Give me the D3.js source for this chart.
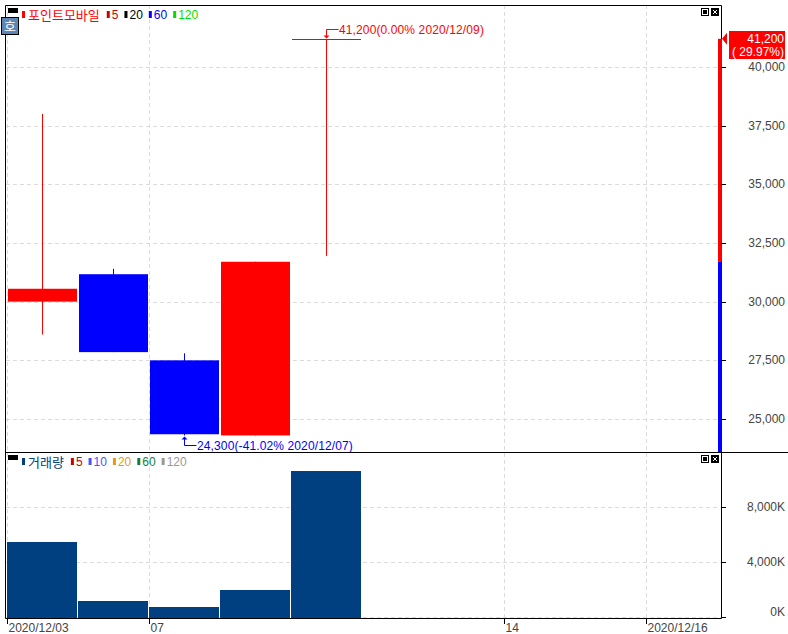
<!DOCTYPE html>
<html>
<head>
<meta charset="utf-8">
<script src="https://cdn.jsdelivr.net/npm/d3@7"></script>
<style>
html, body { margin: 0; background: #fff; }
svg { display: block; }
text { font-family: "Liberation Sans Narrow", "Liberation Sans", sans-serif; font-size: 12px; }
.kr { font-family: "Noto Sans CJK KR", sans-serif; font-size: 13px; }
</style>
</head>
<body>
<svg id="chart" width="788" height="634"></svg>
<script>
const dates = ["2020/12/03", "2020/12/04", "2020/12/07", "2020/12/08", "2020/12/09", "2020/12/10", "2020/12/11", "2020/12/14", "2020/12/15", "2020/12/16"]
const opens = [30000, 31170, 27500, 24300, 41200]
const closes = [30550, 27850, 24350, 31700, 41200]
const highs = [38000, 31400, 27800, 31700, 41200]
const lows = [28600, 27850, 24300, 24300, 31950]
const volumes = [5530, 1240, 800, 2040, 10700]
const priceTicks = [25000, 27500, 30000, 32500, 35000, 37500, 40000]
const volumeTicks = [0, 4000, 8000]
const dateTicks = [["2020/12/03", "2020/12/03"], ["2020/12/07", "07"], ["2020/12/14", "14"], ["2020/12/16", "2020/12/16"]]
const priceLegend = [["5", "#d00000"], ["20", "#000000"], ["60", "#0000ff"], ["120", "#00e000"]]
const volumeLegend = [["5", "#d00000"], ["10", "#5050ff"], ["20", "#e89a10"], ["60", "#108040"], ["120", "#999999"]]

const RED = "#ff0000", BLUE = "#0000ff", NAVY = "#004080"
const plotLeft = 6, plotRight = 721, plotTop = 5, split = 452, plotBottom = 618

const svg = d3.select("#chart")
const x = d3.scaleBand().domain(dates).range([6.5, 716.5]).paddingInner(0)
const y = d3.scaleLinear().domain([25000, 40000]).range([419, 67])
const yVol = d3.scaleLinear().domain([0, 8000]).range([617, 507])

// grid lines first so bars sit on top
const grid = svg.append("g").attr("stroke", "#dcdcdc").attr("stroke-dasharray", "4,3")
grid.append("g").selectAll("line").data(priceTicks).join("line")
    .attr("x1", plotLeft).attr("x2", plotRight)
    .attr("y1", d => Math.round(y(d)) + 0.5).attr("y2", d => Math.round(y(d)) + 0.5)
grid.append("g").selectAll("line").data(volumeTicks).join("line")
    .attr("x1", plotLeft).attr("x2", plotRight)
    .attr("y1", d => Math.round(yVol(d)) + 0.5).attr("y2", d => Math.round(yVol(d)) + 0.5)
grid.append("g").selectAll("line").data(dateTicks).join("line")
    .attr("x1", d => Math.floor(x(d[0])) + 1.5).attr("x2", d => Math.floor(x(d[0])) + 1.5)
    .attr("y1", plotTop).attr("y2", plotBottom)

// candles
const candles = dates.slice(0, opens.length).map((d, i) => ({
    date: d, open: opens[i], close: closes[i], high: highs[i], low: lows[i],
}))
const color = (d) => (d.close >= d.open ? RED : BLUE)
const mid = (d) => Math.round(x(d.date) + x.bandwidth() / 2) + 0.5

svg.append("g").selectAll("line").data(candles).join("line")
    .attr("x1", mid).attr("x2", mid)
    .attr("y1", d => y(d.high)).attr("y2", d => y(d.low))
    .attr("stroke", color)
svg.append("g").selectAll("rect").data(candles.filter(d => d.open !== d.close)).join("rect")
    .attr("x", d => x(d.date) + 1.5)
    .attr("width", x.bandwidth() - 2)
    .attr("y", d => y(Math.max(d.open, d.close)))
    .attr("height", d => y(Math.min(d.open, d.close)) - y(Math.max(d.open, d.close)))
    .attr("fill", color)
svg.append("g").selectAll("line").data(candles.filter(d => d.open === d.close)).join("line")
    .attr("x1", d => x(d.date) + 1.5).attr("x2", d => x(d.date) + x.bandwidth() - 0.5)
    .attr("y1", d => Math.round(y(d.close)) + 0.5).attr("y2", d => Math.round(y(d.close)) + 0.5)
    .attr("stroke", color)

// volume bars
svg.append("g").selectAll("rect").data(volumes).join("rect")
    .attr("x", (d, i) => x(dates[i]) + 0.5)
    .attr("width", x.bandwidth() - 1)
    .attr("y", d => Math.round(yVol(d)) + 1)
    .attr("height", d => plotBottom - Math.round(yVol(d)) - 1)
    .attr("fill", NAVY)

// high and low callouts
function callout(date, price, label, col, dir) {
    const cx = mid({ date })
    const py = Math.round(y(price)) + 0.5
    const ly = py + dir * 10
    const g = svg.append("g").attr("stroke", col).attr("fill", "none")
    g.append("path").attr("d", d3.line()([[cx, py + dir * 2], [cx, ly], [cx + 12, ly]]))
    g.append("path").attr("fill", col).attr("stroke", "none")
        .attr("d", d3.line()([[cx - 3, py + dir * 4], [cx + 3, py + dir * 4], [cx, py + dir]]))
    svg.append("text").attr("x", cx + 12.5).attr("y", ly + 4).attr("fill", col)
        .attr("letter-spacing", 0.12).text(label)
}
callout("2020/12/09", 41200, "41,200(0.00% 2020/12/09)", RED, -1)
callout("2020/12/07", 24300, "24,300(-41.02% 2020/12/07)", BLUE, 1)

// frame
const frame = svg.append("g").attr("stroke", "#000").attr("fill", "none")
frame.append("path").attr("d", `M${plotLeft - 0.5},${plotBottom + 0.5}V${plotTop + 0.5}H${plotRight + 0.5}V${plotBottom + 0.5}H${plotLeft - 0.5}`)
frame.append("line").attr("x1", plotLeft).attr("x2", 788).attr("y1", split + 0.5).attr("y2", split + 0.5)

// current price strip on the right edge
svg.append("rect").attr("x", 718).attr("width", 4)
    .attr("y", y(41200)).attr("height", y(31700) - y(41200)).attr("fill", RED)
svg.append("rect").attr("x", 718).attr("width", 4)
    .attr("y", y(31700)).attr("height", split - y(31700)).attr("fill", BLUE)

// right axes
const axisTicks = svg.append("g").attr("stroke", "#000")
axisTicks.append("g").selectAll("line").data(priceTicks).join("line")
    .attr("x1", plotRight).attr("x2", plotRight + 5)
    .attr("y1", d => Math.round(y(d)) + 0.5).attr("y2", d => Math.round(y(d)) + 0.5)
axisTicks.append("g").selectAll("line").data(volumeTicks).join("line")
    .attr("x1", plotRight).attr("x2", plotRight + 5)
    .attr("y1", d => Math.round(yVol(d)) + 0.5).attr("y2", d => Math.round(yVol(d)) + 0.5)
const fmt = d3.format(",")
svg.append("g").attr("fill", "#444").attr("text-anchor", "end").selectAll("text").data(priceTicks).join("text")
    .attr("x", 785).attr("y", d => y(d) + 4).text(fmt)
svg.append("g").attr("fill", "#444").attr("text-anchor", "end").selectAll("text").data(volumeTicks).join("text")
    .attr("x", 785).attr("y", d => Math.min(yVol(d) + 4, 616)).text(d => fmt(d) + "K")

// date axis
const dateAxis = svg.append("g")
dateAxis.selectAll("line").data(dateTicks).join("line")
    .attr("stroke", "#000")
    .attr("x1", d => Math.floor(x(d[0])) + 1.5).attr("x2", d => Math.floor(x(d[0])) + 1.5)
    .attr("y1", plotBottom).attr("y2", plotBottom + 6)
dateAxis.selectAll("text").data(dateTicks).join("text")
    .attr("fill", "#444")
    .attr("x", d => Math.floor(x(d[0])) + 2.5).attr("y", 632).text(d => d[1])

// current price tag
svg.append("rect").attr("x", 729).attr("y", 31).attr("width", 56).attr("height", 28).attr("fill", RED)
svg.append("path").attr("fill", RED)
    .attr("d", d3.line()([[722, y(41200)], [727, y(41200) - 6], [727, y(41200) + 6]]))
svg.append("text").attr("x", 784).attr("y", 43).attr("fill", "#fff").attr("text-anchor", "end").text("41,200")
svg.append("text").attr("x", 784).attr("y", 56).attr("fill", "#fff").attr("text-anchor", "end").text("( 29.97%)")

// legends
function legend(name, nameColor, markColor, items, ly) {
    svg.append("rect").attr("x", 8).attr("y", ly - 7).attr("width", 10).attr("height", 5).attr("fill", "#000")
    let cx = 22
    svg.append("rect").attr("x", cx).attr("y", ly - 4).attr("width", 3).attr("height", 7).attr("fill", markColor)
    const title = svg.append("text").attr("class", "kr").attr("x", cx + 6).attr("y", ly + 5)
        .attr("fill", nameColor).text(name)
    cx += 6 + title.node().getComputedTextLength() + 7
    items.forEach(([label, col]) => {
        svg.append("rect").attr("x", cx).attr("y", ly - 4).attr("width", 3).attr("height", 7).attr("fill", col)
        const t = svg.append("text").attr("x", cx + 5).attr("y", ly + 4).attr("fill", col).text(label)
        cx += 5 + t.node().getComputedTextLength() + 6
    })
}
legend("포인트모바일", RED, RED, priceLegend, 15)
legend("거래량", NAVY, NAVY, volumeLegend, 462)

// info button
svg.append("rect").attr("x", 1.5).attr("y", 17.5).attr("width", 17).attr("height", 17).attr("fill", "#5b86b5").attr("stroke", "#000")
svg.append("text").attr("class", "kr").attr("x", 10).attr("y", 31).attr("text-anchor", "middle").attr("fill", "#fff").text("호")

// pane buttons
function paneButtons(by) {
    const g = svg.append("g")
    g.append("rect").attr("x", 701.5).attr("y", by + 0.5).attr("width", 7).attr("height", 7).attr("fill", "#fff").attr("stroke", "#000")
    g.append("rect").attr("x", 703).attr("y", by + 2).attr("width", 4).attr("height", 4).attr("fill", "#000")
    g.append("rect").attr("x", 711).attr("y", by).attr("width", 8).attr("height", 8).attr("fill", "#000")
    g.append("path").attr("stroke", "#fff").attr("d", "M713," + (by + 2) + "l4,4M717," + (by + 2) + "l-4,4")
}
paneButtons(8)
paneButtons(455)
</script>
</body>
</html>
